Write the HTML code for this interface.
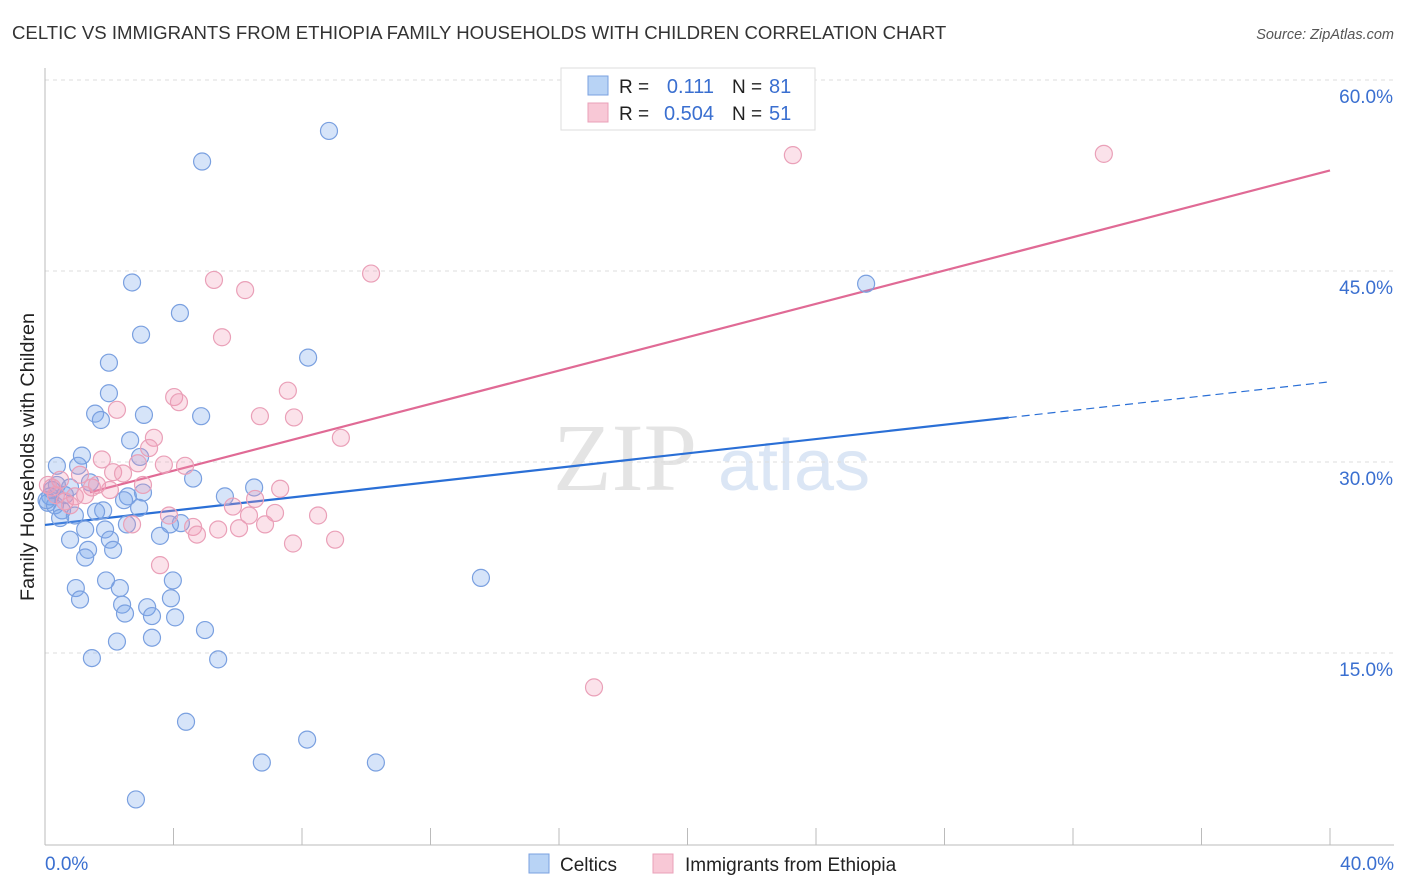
<!DOCTYPE html>
<html><head><meta charset="utf-8"><style>
body{margin:0;background:#fff;font-family:"Liberation Sans",sans-serif;}
</style></head><body>
<svg id="chart" width="1406" height="892" style="display:block">
<text x="12" y="39" font-size="18.6" fill="#333">CELTIC VS IMMIGRANTS FROM ETHIOPIA FAMILY HOUSEHOLDS WITH CHILDREN CORRELATION CHART</text>
<text x="1394" y="39" font-size="14.5" fill="#555" font-style="italic" text-anchor="end">Source: ZipAtlas.com</text>
<text transform="translate(34,457) rotate(-90)" font-size="19.8" fill="#222" text-anchor="middle">Family Households with Children</text>
<g><text x="553" y="490" font-size="96" fill="#e4e4e4" font-family="Liberation Serif,serif">ZIP</text><text x="718" y="490" font-size="72" fill="#dbe6f5">atlas</text></g>
<g id="grid"></g><g id="axes"></g><g id="lines"></g><g id="pts"></g>
<g>
<rect x="561" y="68" width="254" height="62" fill="#fff" stroke="#ddd"/>
<rect x="588" y="76" width="20" height="19" fill="#b8d3f5" stroke="#7aa0e0"/>
<rect x="588" y="103" width="20" height="19" fill="#f8c8d6" stroke="#eaa0b8"/>
<text x="619" y="93" font-size="19" fill="#222">R =</text><text x="714" y="93" font-size="20" fill="#3a6fd0" text-anchor="end">0.111</text>
<text x="732" y="93" font-size="19" fill="#222">N =</text><text x="769" y="93" font-size="20" fill="#3a6fd0">81</text>
<text x="619" y="120" font-size="19" fill="#222">R =</text><text x="714" y="120" font-size="20" fill="#3a6fd0" text-anchor="end">0.504</text>
<text x="732" y="120" font-size="19" fill="#222">N =</text><text x="769" y="120" font-size="20" fill="#3a6fd0">51</text>
</g>
<g>
<rect x="529" y="854" width="20" height="19" fill="#b8d3f5" stroke="#7aa0e0"/><text x="560" y="871" font-size="19" fill="#222">Celtics</text>
<rect x="653" y="854" width="20" height="19" fill="#f8c8d6" stroke="#eaa0b8"/><text x="685" y="871" font-size="19" fill="#222">Immigrants from Ethiopia</text>
</g>
</svg>
<script>
const xTicks=[0,5,10,15,20,25,30,35,40];
const yTicks=[15,30,45,60];
const yTickLabels=["15.0%","30.0%","45.0%","60.0%"];
const blueX=[8.84,4.89,2.71,4.2,2.99,1.99,8.19,1.99,1.56,1.74,3.08,4.86,2.65,2.96,1.15,0.37,1.03,4.61,6.51,5.6,3.05,2.58,2.46,1.4,0.78,0.37,0.16,0.09,0.31,0.53,0.47,0.93,1.81,1.59,2.93,2.55,1.87,1.25,0.78,2.02,4.23,3.89,3.58,1.34,2.12,1.25,1.9,3.98,0.96,2.33,1.09,3.92,3.18,2.4,2.49,3.33,4.05,4.98,3.33,2.24,1.46,5.39,13.57,25.56,4.39,8.16,6.75,10.3,2.83,0.22,0.62,0.05];
const blueY=[56,53.6,44.1,41.7,40,37.8,38.2,35.4,33.8,33.3,33.7,33.6,31.7,30.4,30.5,29.7,29.7,28.7,28,27.3,27.6,27.3,27,28.4,28,28.2,27.3,26.8,26.6,26.2,25.6,25.8,26.2,26.1,26.4,25.1,24.7,24.7,23.9,23.9,25.2,25.1,24.2,23.1,23.1,22.5,20.7,20.7,20.1,20.1,19.2,19.3,18.6,18.8,18.1,17.9,17.8,16.8,16.2,15.9,14.6,14.5,20.9,44,9.6,8.2,6.4,6.4,3.5,27.8,27.4,27];
const pinkX=[23.28,32.96,5.26,10.15,6.23,5.51,7.56,4.02,4.17,2.24,6.69,7.75,3.39,9.21,3.24,1.77,2.89,4.36,3.7,2.12,2.43,3.05,7.32,1.46,1.62,0.47,0.22,0.93,0.62,6.54,5.85,7.16,8.5,6.35,3.86,2.71,4.61,5.39,6.04,6.85,4.73,7.72,9.03,3.58,17.09,0.34,1.25,2.02,0.09,0.78,1.09];
const pinkY=[54.1,54.2,44.3,44.8,43.5,39.8,35.6,35.1,34.7,34.1,33.6,33.5,31.9,31.9,31.1,30.2,29.9,29.7,29.8,29.2,29.1,28.2,27.9,28,28.2,28.6,28,27.3,26.9,27.1,26.5,26,25.8,25.8,25.8,25.1,24.9,24.7,24.8,25.1,24.3,23.6,23.9,21.9,12.3,27.4,27.4,27.8,28.2,26.6,29];
const blueTrend=[25.06,36.3];
const pinkTrend=[26.7,52.9];
const NS="http://www.w3.org/2000/svg";
const X=v=>45+v*32.125, Y=v=>844-v*12.733;
function mk(tag,attrs,parent){const e=document.createElementNS(NS,tag);for(const k in attrs)e.setAttribute(k,attrs[k]);document.getElementById(parent).appendChild(e);return e;}
yTicks.forEach((t,i)=>{
 const g=mk('line',{x1:45,x2:1394,y1:Y(t),y2:Y(t),stroke:'#ddd','stroke-dasharray':'4,4'},'grid');
 
 
 const l=mk('text',{x:1393,y:Y(t)+23,'font-size':19,fill:'#3a6fd0','text-anchor':'end'},'grid');
 l.textContent=yTickLabels[i];
 
 
});
const ax=mk('line',{x1:45,x2:45,y1:68,y2:845,stroke:'#bbb'},'axes');


const bx=mk('line',{x1:45,x2:1394,y1:845,y2:845,stroke:'#bbb'},'axes');


for(let v=0;v<=40;v+=4){const t=mk('line',{x1:X(v),x2:X(v),y1:828,y2:845,stroke:'#bbb'},'axes');
 
 }
[[0,"0.0%",'start',45],[40,"40.0%",'end',1394]].forEach(a=>{const t=mk('text',{x:a[3],y:870,'font-size':19,fill:'#3a6fd0','text-anchor':a[2]},'axes');t.textContent=a[1];
 
 });
function pts(xs,ys,fill,stroke,name){xs.forEach((x,i)=>{const c=mk('circle',{cx:X(x),cy:Y(ys[i]),r:8.5,fill:fill,stroke:stroke,'stroke-width':1.2},'pts');
 
 });}
pts(blueX,blueY,'rgba(120,165,235,0.3)','#7aa0e0','celtics-point');
pts(pinkX,pinkY,'rgba(242,150,180,0.28)','#eaa0b8','ethiopia-point');
const bAt=x=>blueTrend[0]+(blueTrend[1]-blueTrend[0])*x/40;
const b1=mk('line',{x1:X(0),y1:Y(bAt(0)),x2:X(30),y2:Y(bAt(30)),stroke:'#2a6fd6','stroke-width':2.2},'lines');


const b2=mk('line',{x1:X(30),y1:Y(bAt(30)),x2:X(40),y2:Y(bAt(40)),stroke:'#2a6fd6','stroke-width':1.2,'stroke-dasharray':'8,5'},'lines');


const p1=mk('line',{x1:X(1.4),y1:Y(pinkTrend[0]+(pinkTrend[1]-pinkTrend[0])*1.4/40),x2:X(40),y2:Y(pinkTrend[1]),stroke:'#e06a95','stroke-width':2.2},'lines');


</script>
</body></html>
